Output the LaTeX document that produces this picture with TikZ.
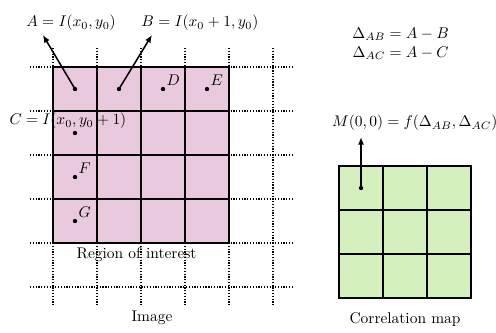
\documentclass[tikz,border=0pt]{standalone}
\usepackage{amsmath, amssymb}
\usepackage{tikz}
\usetikzlibrary{arrows.meta, positioning}
\definecolor{roipink}{RGB}{233,201,221}
\definecolor{mapgreen}{RGB}{212,240,190}

\begin{document}
\begin{tikzpicture}[
  every node/.style={font=\normalsize},
  dot/.style     ={circle, fill=black, inner sep=0pt, minimum size=2.8pt},
  lbl/.style     ={inner sep=1pt},
  imgline/.style ={line width=0.8pt, densely dotted},
  roiline/.style ={line width=1.8pt},
  mapline/.style ={line width=1.1pt},
  arr/.style     ={-{Latex[length=5pt,width=4pt]}, line width=1pt},
]
\useasboundingbox (-1.2045,-6.045) rectangle (10.068,1.5227);

% Image pixel grid
\foreach \x in {0,...,5}
  \draw[imgline] (\x,0.43) -- (\x,-5.45);
\foreach \y in {0,...,5}
  \draw[imgline] (-0.52,-\y) -- (5.48,-\y);

% Region of interest
\fill[roipink] (0,0) rectangle (4,-4);
\draw[roiline] (0,0) grid (4,-4);
\draw[roiline] (0,0) rectangle (4,-4);

% Pixels
\node[dot] (a) at (0.5,-0.5) {};
\node[dot] (b) at (1.5,-0.5) {};
\node[dot, label={[lbl]above right:$D$}] (d) at (2.5,-0.5) {};
\node[dot, label={[lbl]above right:$E$}] (e) at (3.5,-0.5) {};
\node[dot] (c) at (0.5,-1.5) {};
\node[dot, label={[lbl]above right:$F$}] (f) at (0.5,-2.5) {};
\node[dot, label={[lbl]above right:$G$}] (g) at (0.5,-3.5) {};

% Pixel labels
\node (lblA) at (0.41,1.0)   {$A = I(x_0, y_0)$};
\node (lblB) at (3.34,1.0)   {$B = I(x_0+1, y_0)$};
\node (lblC) at (0.34,-1.23) {$C = I(x_0, y_0+1)$};
\coordinate (tipA) at (-0.23,0.73);
\coordinate (tipB) at (2.25,0.73);
\draw[arr] (a.center) -- (tipA);
\draw[arr] (b.center) -- (tipB);

\node (roi) at (1.9,-4.27) {Region of interest};
\node (img) at (2.25,-5.7) {Image};

% Differences
\node[align=center, inner sep=0pt] (diff) at (7.9,0.53)
  {$\Delta_{AB} = A - B$\\$\Delta_{AC} = A - C$};

% Correlation map
\fill[mapgreen] (6.5,-2.25) rectangle (9.5,-5.25);
\foreach \i in {1,2} {
  \draw[mapline] (6.5+\i,-2.25) -- (6.5+\i,-5.25);
  \draw[mapline] (6.5,-2.25-\i) -- (9.5,-2.25-\i);
}
\draw[roiline] (6.5,-2.25) rectangle (9.5,-5.25);
\node[dot] (m) at (7,-2.75) {};
\node (lblM) at (8.22,-1.27) {$M(0,0) = f(\Delta_{AB}, \Delta_{AC})$};
\coordinate (tipM) at (7,-1.59);
\draw[arr] (m.center) -- (tipM);
\node (cmap) at (8.0,-5.75) {Correlation map};

\end{tikzpicture}
\end{document}
